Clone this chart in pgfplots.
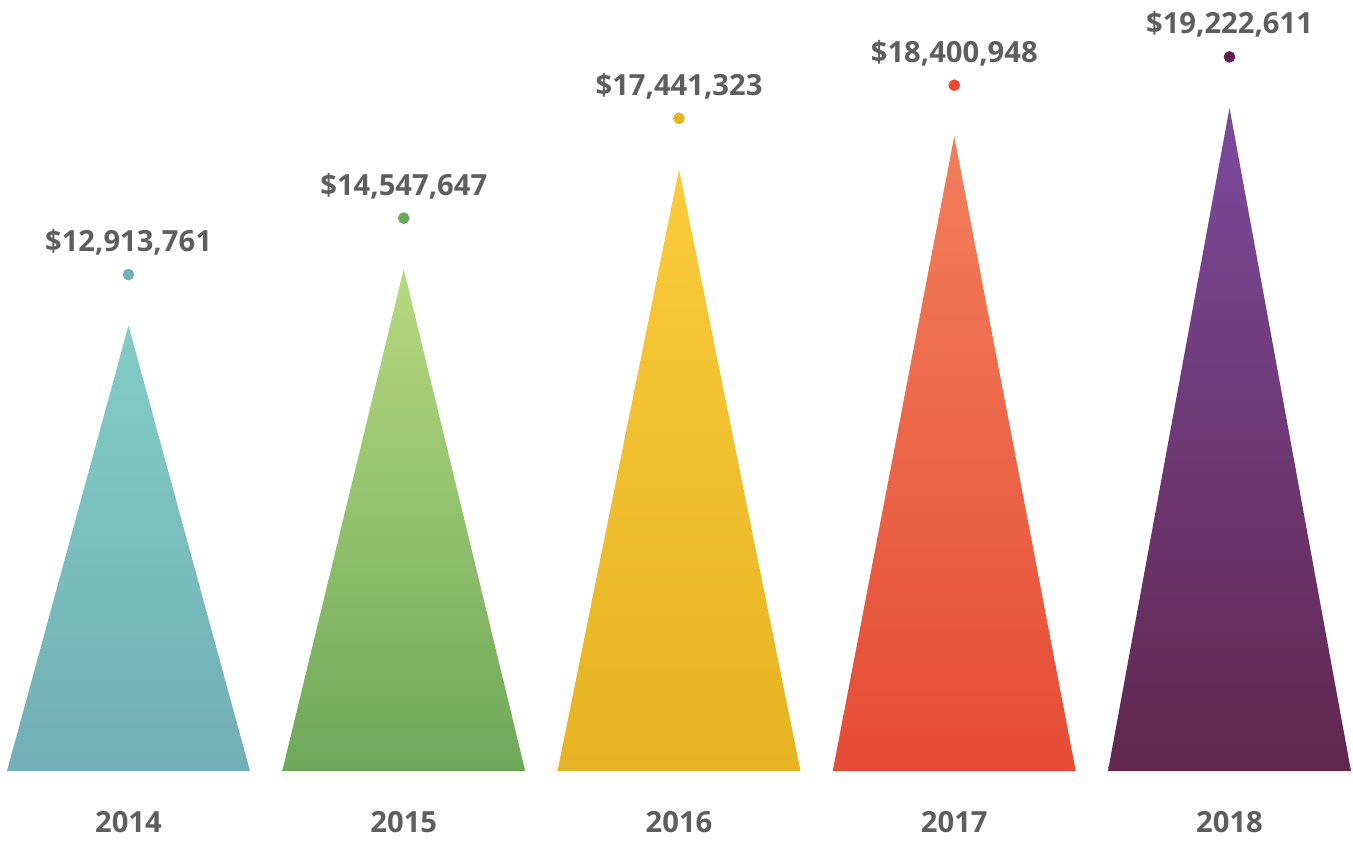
\documentclass[border=0pt]{standalone}
\usepackage{fontspec}
\setmainfont{Open Sans}
\usepackage{pgfplots}
\pgfplotsset{compat=1.18}
\definecolor{txt}{HTML}{5E5E5E}
\definecolor{aT}{HTML}{82CDC4}\definecolor{aB}{HTML}{72AEB6}\definecolor{aD}{HTML}{72B0B8}
\definecolor{bT}{HTML}{B6D97F}\definecolor{bB}{HTML}{6DA85A}\definecolor{bD}{HTML}{6AA85A}
\definecolor{cT}{HTML}{FACB3B}\definecolor{cB}{HTML}{E6B322}\definecolor{cD}{HTML}{E8B522}
\definecolor{dT}{HTML}{F27F5B}\definecolor{dB}{HTML}{E54B35}\definecolor{dD}{HTML}{E84A35}
\definecolor{eT}{HTML}{7B4A9C}\definecolor{eB}{HTML}{61274E}\definecolor{eD}{HTML}{62244E}
\begin{document}
\begin{tikzpicture}
\begin{axis}[
  width=13.53cm, height=8.35cm, scale only axis,
  xmin=-0.4668, xmax=4.4487, ymin=-1.855, ymax=22.35,
  axis line style={draw=none}, ticks=none, clip=false,
]
% triangles
\addplot[draw=none, top color=aT, bottom color=aB] coordinates {(-0.4414,0) (0,12.913761) (0.4414,0)} -- cycle;
\addplot[draw=none, top color=bT, bottom color=bB] coordinates {(0.5586,0) (1,14.547647) (1.4414,0)} -- cycle;
\addplot[draw=none, top color=cT, bottom color=cB] coordinates {(1.5586,0) (2,17.441323) (2.4414,0)} -- cycle;
\addplot[draw=none, top color=dT, bottom color=dB] coordinates {(2.5586,0) (3,18.400948) (3.4414,0)} -- cycle;
\addplot[draw=none, top color=eT, bottom color=eB] coordinates {(3.5586,0) (4,19.222611) (4.4414,0)} -- cycle;
% dots and value labels
\pgfplotsset{dotlab/.style={color=#1, only marks, mark=*, mark size=1.45pt, mark options={draw=#1, fill=#1, yshift=0.51cm},
  point meta=explicit symbolic, nodes near coords, every node near coord/.style={anchor=base, yshift=0.23cm, font=\fontsize{8.3}{10}\selectfont\bfseries, text=txt}}}
\addplot[dotlab=aD] coordinates {(0,12.913761) [\$12,913,761]};
\addplot[dotlab=bD] coordinates {(1,14.547647) [\$14,547,647]};
\addplot[dotlab=cD] coordinates {(2,17.441323) [\$17,441,323]};
\addplot[dotlab=dD] coordinates {(3,18.400948) [\$18,400,948]};
\addplot[dotlab=eD] coordinates {(4,19.222611) [\$19,222,611]};
% year labels
\addplot[only marks, mark=none, point meta=explicit symbolic, nodes near coords,
  every node near coord/.style={anchor=base, yshift=-0.61cm, font=\fontsize{8.3}{10}\selectfont\bfseries, text=txt}]
  coordinates {(0,0) [2014] (1,0) [2015] (2,0) [2016] (3,0) [2017] (4,0) [2018]};
\end{axis}
\end{tikzpicture}
\end{document}
